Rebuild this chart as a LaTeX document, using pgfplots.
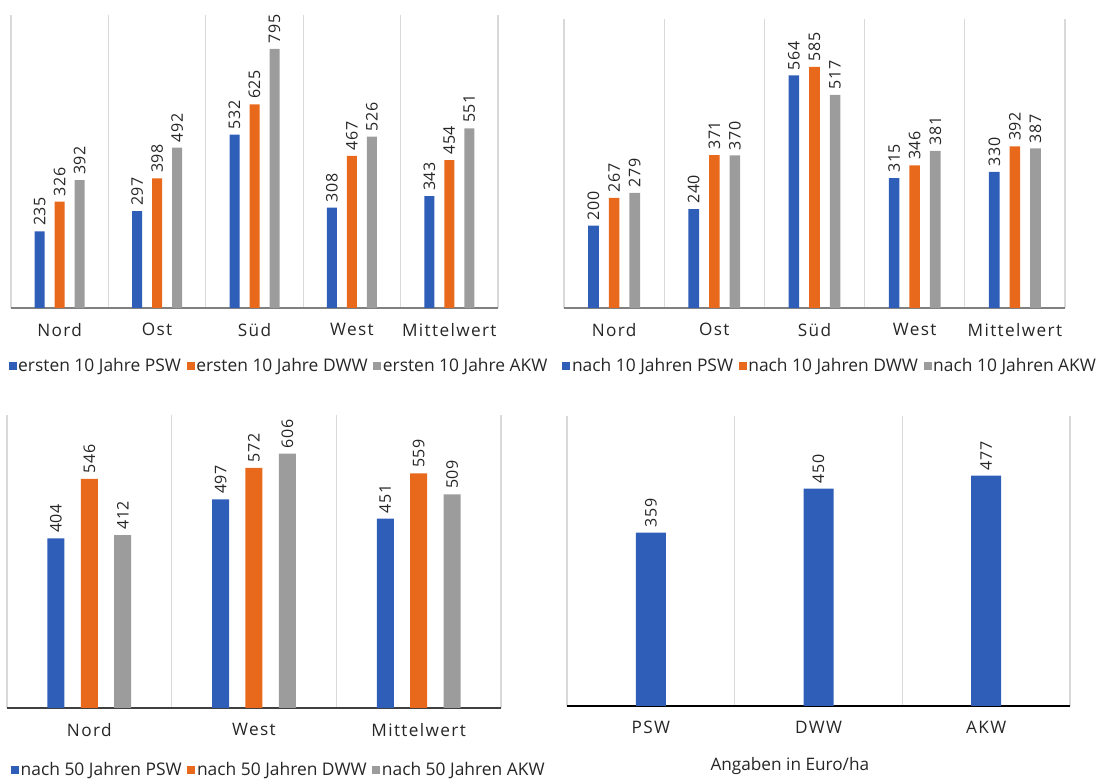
\documentclass[border=0pt]{standalone}
\usepackage{pgfplots}
\pgfplotsset{compat=1.18}
\usepackage{fontspec}
\setmainfont{Open Sans}
\newfontfamily\tickfont[LetterSpace=8]{Open Sans}
\newfontfamily\numfont[LetterSpace=4]{Open Sans}
\definecolor{cblue}{HTML}{2E5EB8}
\definecolor{corange}{HTML}{E8691B}
\definecolor{cgray}{HTML}{9C9C9C}
\definecolor{sep}{HTML}{D9D9D9}
\definecolor{txt}{HTML}{262626}

\pgfplotsset{
  panel/.style={
    scale only axis,
    anchor=south west,
    ybar,
    ymin=0,
    /pgf/number format/assume math mode=true,
    axis y line=none,
    axis x line*=bottom,
    x axis line style={draw=#1, line width=0.8pt, -},
    xtick=data,
    major tick length=0pt,
    minor tick length=0pt,
    xminorgrids,
    minor x grid style={draw=sep, line width=0.6pt},
    xticklabel style={font=\tickfont\fontsize{8.6}{10}\selectfont, text=txt, yshift=-4pt},
    nodes near coords,
    every node near coord/.append style={rotate=90, anchor=west, font=\numfont\fontsize{8}{9}\selectfont, text=txt, inner sep=2.5pt},
    legend columns=3,
    legend style={draw=none, fill=none, font=\fontsize{8.7}{9}\selectfont, text=txt,
      /tikz/every even column/.append style={column sep=2pt},
      nodes={inner sep=0.8pt}},
    legend image code/.code={\fill[##1] (0pt,-2pt) rectangle (4pt,2pt);},
    clip=false,
  },
}

\begin{document}
\begin{tikzpicture}[x=1pt,y=1pt]
\path[use as bounding box] (0,0) rectangle (550,390);

% Panel 1
\begin{axis}[panel={black!50},
  at={(5.5pt,236pt)}, width=243.5pt, height=146.5pt,
  xmin=-0.5, xmax=4.5, ymax=899,
  minor xtick={-0.5,0.5,1.5,2.5,3.5,4.5},
  xticklabels={Nord,Ost,Süd,West,Mittelwert},
  bar width=5pt,
  legend style={at={(0.55,0)}, anchor=center, yshift=-29pt},
]
\addplot[fill=cblue, draw=none, bar shift=-10pt] coordinates {(0,235) (1,297) (2,532) (3,308) (4,343)};
\addplot[fill=corange, draw=none, bar shift=0pt] coordinates {(0,326) (1,398) (2,625) (3,467) (4,454)};
\addplot[fill=cgray, draw=none, bar shift=10pt] coordinates {(0,392) (1,492) (2,795) (3,526) (4,551)};
\legend{ersten 10 Jahre PSW,ersten 10 Jahre DWW,ersten 10 Jahre AKW}
\end{axis}

% Panel 2
\begin{axis}[panel={black!50},
  at={(282pt,236pt)}, width=250.5pt, height=144.5pt,
  xmin=-0.5, xmax=4.5, ymax=701,
  minor xtick={-0.5,0.5,1.5,2.5,3.5,4.5},
  xticklabels={Nord,Ost,Süd,West,Mittelwert},
  bar width=5.3pt,
  legend style={at={(0.531,0)}, anchor=center, yshift=-29pt},
]
\addplot[fill=cblue, draw=none, bar shift=-10.3pt] coordinates {(0,200) (1,240) (2,564) (3,315) (4,330)};
\addplot[fill=corange, draw=none, bar shift=0pt] coordinates {(0,267) (1,371) (2,585) (3,346) (4,392)};
\addplot[fill=cgray, draw=none, bar shift=10.3pt] coordinates {(0,279) (1,370) (2,517) (3,381) (4,387)};
\legend{nach 10 Jahren PSW,nach 10 Jahren DWW,nach 10 Jahren AKW}
\end{axis}

% Panel 3
\begin{axis}[panel={black!75},
  at={(3.5pt,36pt)}, width=247pt, height=146.5pt,
  xmin=-0.5, xmax=2.5, ymax=698,
  minor xtick={-0.5,0.5,1.5,2.5},
  xticklabels={Nord,West,Mittelwert},
  bar width=8.5pt,
  legend style={at={(0.55,0)}, anchor=center, yshift=-31pt},
]
\addplot[fill=cblue, draw=none, bar shift=-16.7pt] coordinates {(0,404) (1,497) (2,451)};
\addplot[fill=corange, draw=none, bar shift=0pt] coordinates {(0,546) (1,572) (2,559)};
\addplot[fill=cgray, draw=none, bar shift=16.7pt] coordinates {(0,412) (1,606) (2,509)};
\legend{nach 50 Jahren PSW,nach 50 Jahren DWW,nach 50 Jahren AKW}
\end{axis}

% Panel 4
\begin{axis}[panel={black},
  at={(283.5pt,37pt)}, width=251.5pt, height=145pt,
  xmin=-0.5, xmax=2.5, ymax=600.6,
  minor xtick={-0.5,0.5,1.5,2.5},
  xticklabels={PSW,DWW,AKW},
  bar width=15pt,
]
\addplot[fill=cblue, draw=none, bar shift=0pt] coordinates {(0,359) (1,450) (2,477)};
\node[font=\fontsize{8.6}{10}\selectfont, text=txt] at (axis description cs:0.443,0) [yshift=-30pt] {Angaben in Euro/ha};
\end{axis}
\end{tikzpicture}
\end{document}
